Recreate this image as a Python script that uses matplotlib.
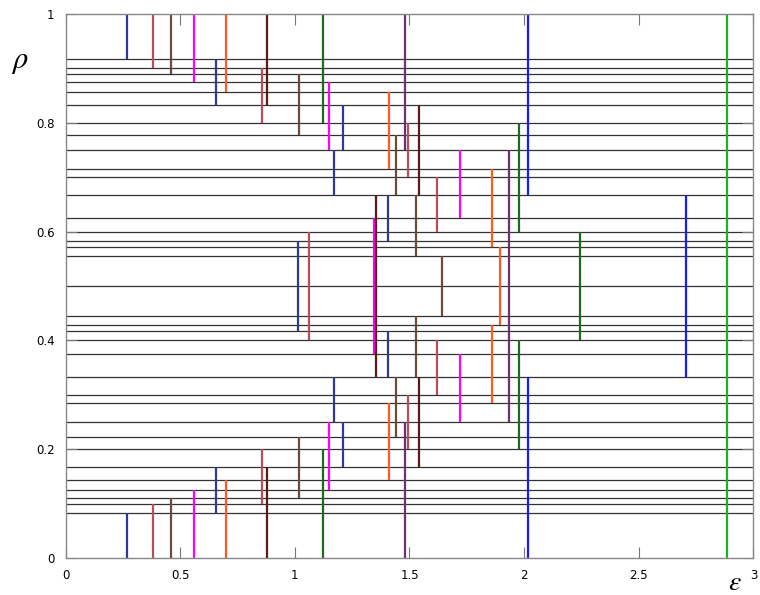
import matplotlib.pyplot as plt

# rho levels (horizontal lines)
rho_levels = [1/12, 1/10, 1/9, 1/8, 1/7, 1/6, 1/5, 2/9, 1/4, 2/7, 3/10, 1/3,
              3/8, 2/5, 5/12, 3/7, 4/9, 1/2, 5/9, 4/7, 7/12, 3/5, 5/8, 2/3,
              7/10, 5/7, 3/4, 7/9, 4/5, 5/6, 6/7, 7/8, 8/9, 9/10, 11/12]

# vertical segments per denominator: epsilon, lower rho, upper rho
# (segments below 1/2 are mirrored to 1 - rho)
eps_12 = [0.268, 0.655, 1.013, 1.172, 1.211, 1.408]
lo_12 = [0, 1/12, 5/12, 1/4, 1/6, 1/3]
hi_12 = [1/12, 1/6, 7/12, 1/3, 1/4, 5/12]

eps_10 = [0.380, 0.858, 1.495, 1.621, 1.061]
lo_10 = [0, 1/10, 1/5, 3/10, 2/5]
hi_10 = [1/10, 1/5, 3/10, 2/5, 3/5]

eps_9 = [0.459, 1.020, 1.441, 1.528, 1.642]
lo_9 = [0, 1/9, 2/9, 1/3, 4/9]
hi_9 = [1/9, 2/9, 1/3, 4/9, 5/9]

eps_8 = [0.562, 1.150, 1.720, 1.347]
lo_8 = [0, 1/8, 1/4, 3/8]
hi_8 = [1/8, 1/4, 3/8, 5/8]

eps_7 = [0.699, 1.412, 1.860, 1.896]
lo_7 = [0, 1/7, 2/7, 3/7]
hi_7 = [1/7, 2/7, 3/7, 4/7]

eps_6 = [0.879, 1.543, 1.353]
lo_6 = [0, 1/6, 1/3]
hi_6 = [1/6, 1/3, 2/3]

eps_5 = [1.124, 1.976, 2.242]
lo_5 = [0, 1/5, 2/5]
hi_5 = [1/5, 2/5, 3/5]

eps_4 = [1.480, 1.934]
lo_4 = [0, 1/4]
hi_4 = [1/4, 3/4]

eps_3 = [2.016, 2.705]
lo_3 = [0, 1/3]
hi_3 = [1/3, 2/3]

eps_2 = [2.885]
lo_2 = [0]
hi_2 = [1]

groups = [
    (eps_12, lo_12, hi_12, '#2E3A96'),
    (eps_10, lo_10, hi_10, '#B5505A'),
    (eps_9, lo_9, hi_9, '#6B4C3B'),
    (eps_8, lo_8, hi_8, '#FF00FF'),
    (eps_7, lo_7, hi_7, '#FF5A1F'),
    (eps_6, lo_6, hi_6, '#5C1A12'),
    (eps_5, lo_5, hi_5, '#1E6B1E'),
    (eps_4, lo_4, hi_4, '#6E2F6E'),
    (eps_3, lo_3, hi_3, '#1A1AFF'),
    (eps_2, lo_2, hi_2, '#22B022'),
]

plt.rcParams['mathtext.fontset'] = 'stix'

fig = plt.figure(figsize=(7.6, 5.95), dpi=100)
ax = fig.add_axes([0.0862, 0.0622, 0.9052, 0.9143])

ax.hlines(rho_levels, 0, 3, colors='#333333', linewidth=0.9, zorder=1)

for eps, lo, hi, col in groups:
    for e, a, b in zip(eps, lo, hi):
        ax.vlines(e, a, b, colors=col, linewidth=1.6, zorder=2)
        if b <= 0.5:
            ax.vlines(e, 1 - b, 1 - a, colors=col, linewidth=1.6, zorder=2)

ax.set_xlim(0, 3)
ax.set_ylim(0, 1)
ax.set_xticks([0, 0.5, 1, 1.5, 2, 2.5, 3])
ax.set_xticklabels(['0', '0.5', '1', '1.5', '2', '2.5', '3'])
ax.set_yticks([0, 0.2, 0.4, 0.6, 0.8, 1])
ax.set_yticklabels(['0', '0.2', '0.4', '0.6', '0.8', '1'])
ax.tick_params(direction='in', length=8, width=0.8, color='#777777',
               labelsize=8.5, top=True, right=True, pad=8)
for s in ax.spines.values():
    s.set_color('#888888')
    s.set_linewidth(1.0)

fig.text(20/760, 1 - 62/595, r'$\rho$', fontsize=22, ha='center', va='center')
fig.text(735/760, 1 - 582/595, r'$\varepsilon$', fontsize=20, ha='center', va='center')

plt.savefig("out.png", dpi=100)
